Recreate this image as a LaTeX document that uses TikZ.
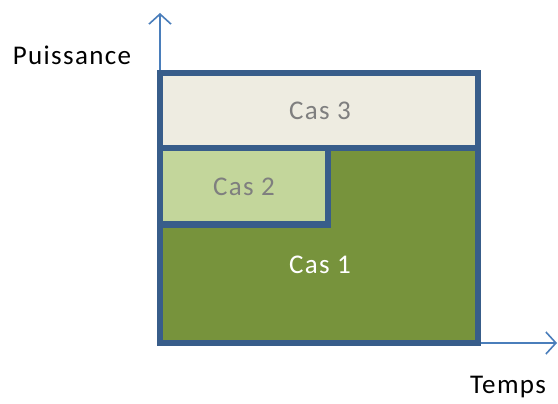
\documentclass[tikz,border=0pt]{standalone}
\usepackage{fontspec}
\setmainfont{Carlito}[LetterSpace=5]
\usetikzlibrary{arrows.meta}
\definecolor{borderblue}{HTML}{385D8A}
\definecolor{axisblue}{HTML}{4A7EBB}
\definecolor{casthree}{HTML}{EEECE1}
\definecolor{castwo}{HTML}{C3D69B}
\definecolor{casone}{HTML}{77933C}
\definecolor{labelgray}{HTML}{7F7F7F}
\tikzset{
  axis/.style={draw=axisblue, line width=1.6pt, -{Straight Barb[length=10pt,width=22pt,line width=1.6pt]}},
  boxborder/.style={draw=borderblue, line width=6pt, line join=miter},
  lbl/.style={font=\fontsize{27}{31}\selectfont, inner sep=0pt},
}
\begin{document}
\begin{tikzpicture}[x=1pt,y=-1pt]
\useasboundingbox (0,0) rectangle (558,404);
% key coordinates
\coordinate (tl) at (160,73);
\coordinate (br) at (478,343);
\coordinate (bl) at (160,343);
\coordinate (midl) at (160,148.5);
\coordinate (midr) at (478,148.5);
\coordinate (ctwo) at (328,224.5);
\coordinate (ytip) at (160,13);
\coordinate (xtip) at (557,343);
% axes
\draw[axis] (bl) -- (ytip);
\draw[axis] (br) -- (xtip);
% fills
\fill[casone] (midl) rectangle (br);
\fill[casthree] (tl) rectangle (midr);
\fill[castwo] (midl) rectangle (ctwo);
% borders
\draw[boxborder] (tl) rectangle (br);
\draw[boxborder] (midl) -- (midr);
\draw[boxborder] (midl) rectangle (ctwo);
% labels
\node[lbl, text=labelgray] (c3) at (320,111) {Cas 3};
\node[lbl, text=labelgray] (c2) at (244,187) {Cas 2};
\node[lbl, text=white] (c1) at (320,265) {Cas 1};
\node[lbl, text=black] (puis) at (72,55) {Puissance};
\node[lbl, text=black] (temps) at (508,387) {Temps};
\end{tikzpicture}
\end{document}
